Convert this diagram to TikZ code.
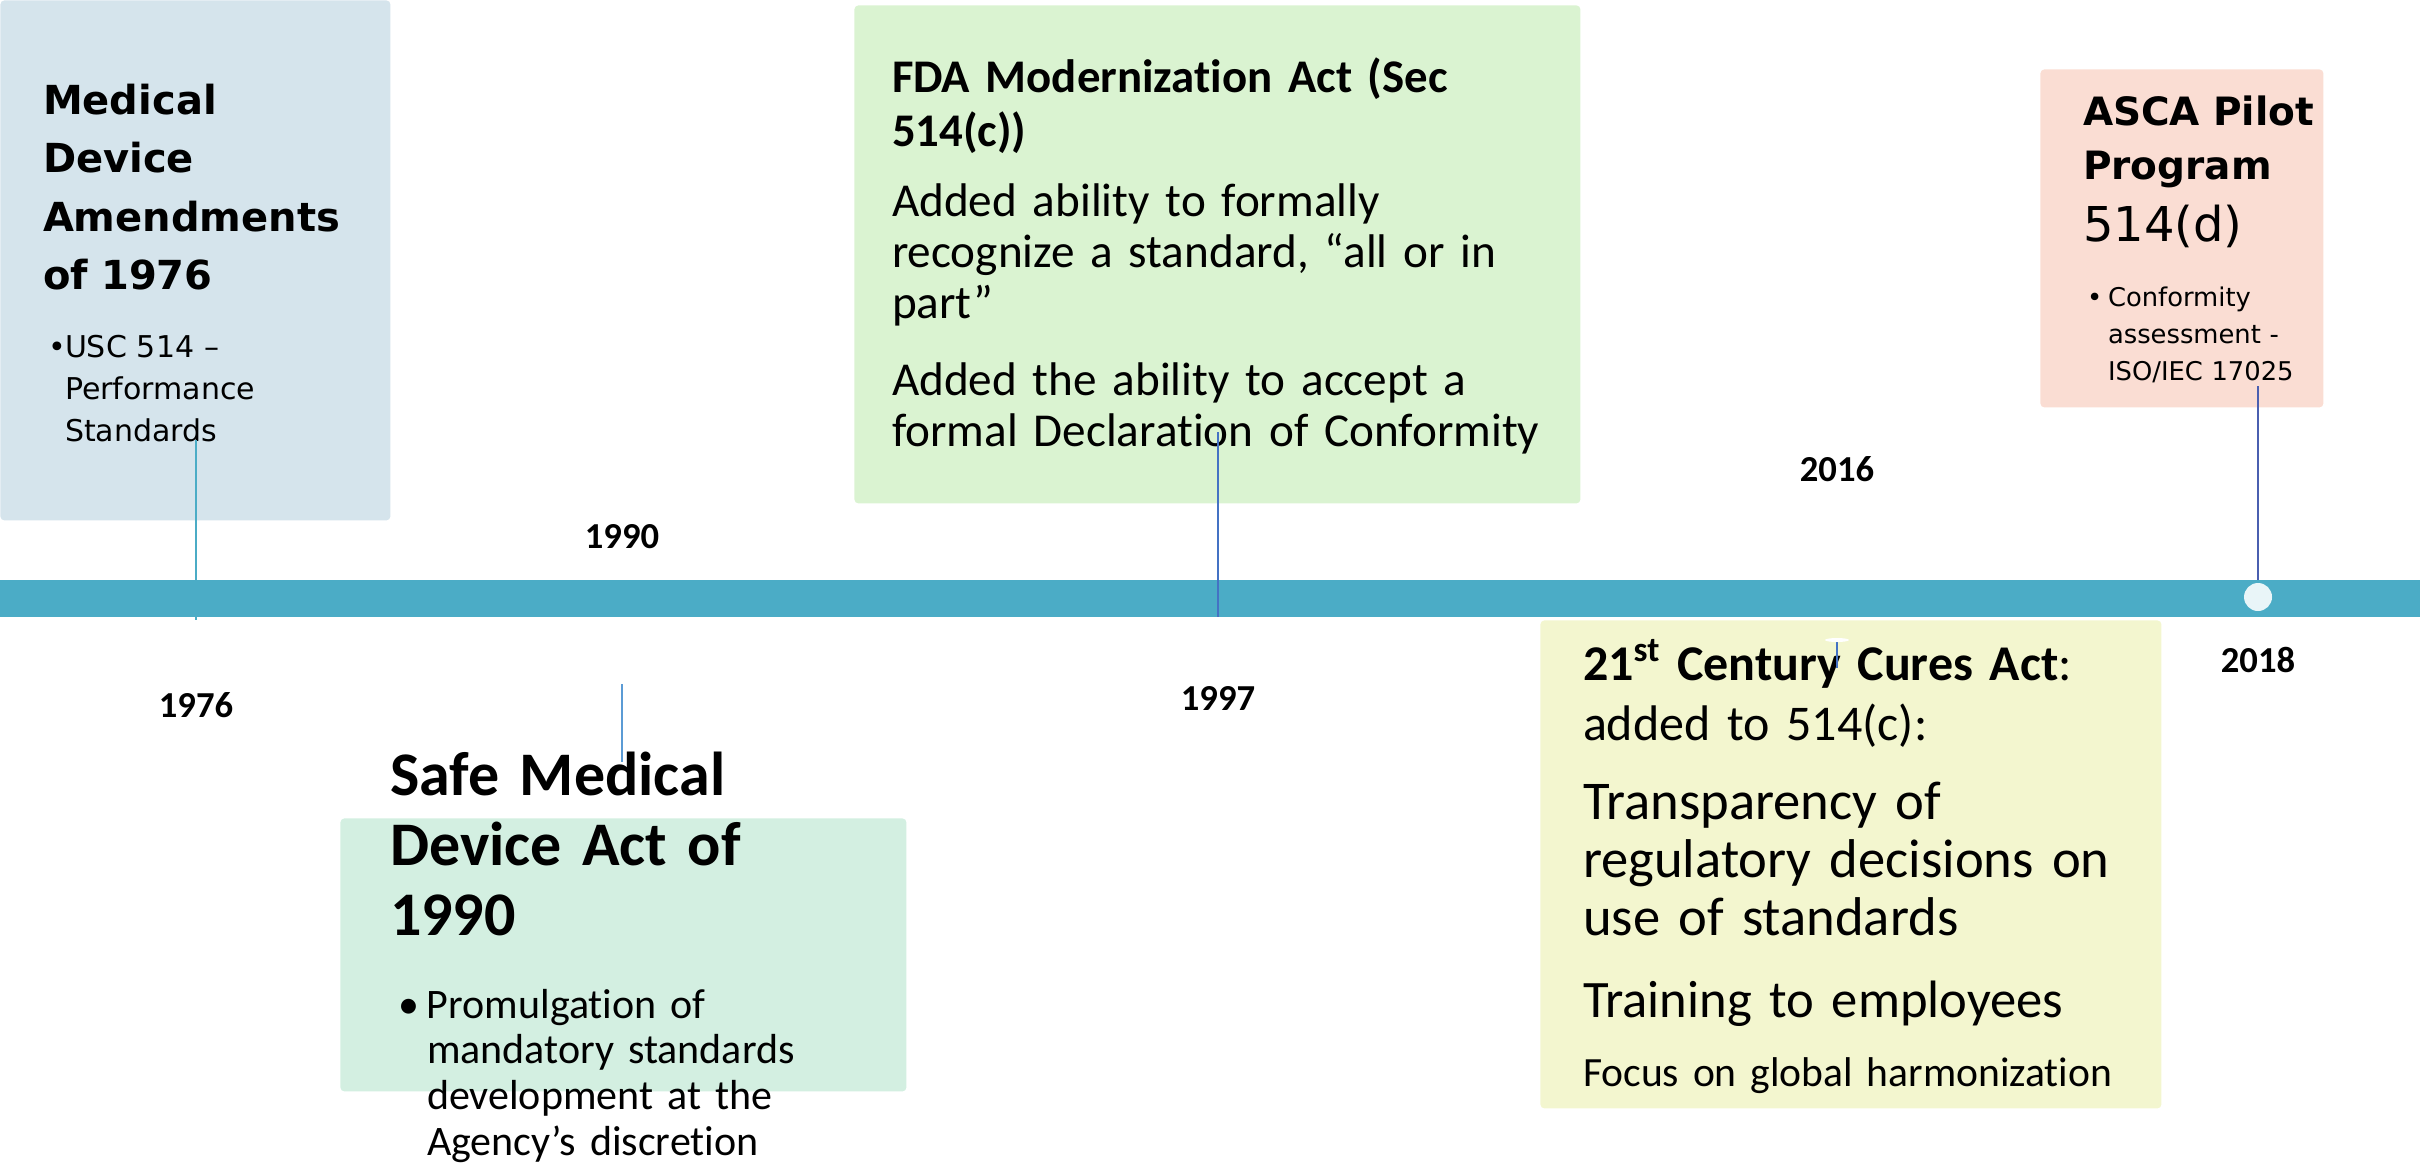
\documentclass[tikz,border=0pt]{standalone}
\usepackage{fontspec}
\setmainfont{Carlito}[Ligatures=NoCommon]
\newfontfamily\wideface{DejaVu Sans}
\usetikzlibrary{positioning, shapes.geometric}

\definecolor{barblue}{HTML}{4BACC6}
\definecolor{fillA}{HTML}{D5E4EC}
\definecolor{fillB}{HTML}{D3EFE1}
\definecolor{fillC}{HTML}{DAF3D1}
\definecolor{fillD}{HTML}{F3F6CF}
\definecolor{fillE}{HTML}{FADDD3}
\definecolor{tickA}{HTML}{4BACC6}
\definecolor{tickB}{HTML}{5B9BD5}
\definecolor{tickC}{HTML}{4472C4}
\definecolor{tickD}{HTML}{4A5FB0}

% bullet with hanging indent (lines broken with \newline, paragraph closed with \par)
\newcommand{\bul}[1]{\hangindent=#1\hangafter=1\noindent\makebox[#1][l]{\textbullet}}

\begin{document}
\begin{tikzpicture}[
    x=0.5pt, y=-0.5pt,
    bar/.style={rectangle, fill=barblue, inner sep=0pt, minimum width=1210pt, minimum height=18.5pt},
    evbox/.style={rectangle, rounded corners=2pt, anchor=north west, inner sep=0pt},
    txt/.style={anchor=base west, inner sep=0pt, outer sep=0pt, text width=360pt, align=left},
    year/.style={font=\fontsize{18.3}{21}\selectfont\bfseries, inner sep=0pt},
    tick/.style={line width=0.6pt}
]
    \useasboundingbox (0,0) rectangle (2420,1162);

    % timeline
    \node[bar] (bar) at (1210,598.5) {};

    % event boxes
    \node[evbox, fill=fillA, minimum width=195pt, minimum height=260pt] (b1976) at (0,0) {};
    \node[evbox, fill=fillC, minimum width=363pt, minimum height=249pt] (b1997) at (854,5) {};
    \node[evbox, fill=fillE, minimum width=141.5pt, minimum height=169pt] (b2018) at (2040,69) {};
    \node[evbox, fill=fillB, minimum width=283pt, minimum height=136.5pt] (b1990) at (340,818) {};
    \node[evbox, fill=fillD, minimum width=310.5pt, minimum height=244pt] (b2016) at (1540,620) {};

    % 1976
    \node[txt, font=\fontsize{20}{29.3}\selectfont\wideface\bfseries] (h1976) at (43,114)
        {Medical\\Device\\Amendments\\of 1976};
    \node[txt, font=\fontsize{15}{21}\selectfont\wideface] (p1976) at (48,357)
        {\bul{8.5pt}USC 514 –\newline Performance\newline Standards\par};

    % 1990
    \node[txt, font=\fontsize{31}{35}\selectfont\bfseries] (h1990) at (390,795)
        {Safe Medical\\Device Act of\\1990};
    \node[txt, font=\fontsize{21}{22.9}\selectfont] (p1990) at (398,1018)
        {\bul{14.5pt}Promulgation of\newline mandatory standards\newline development at the\newline Agency’s discretion\par};

    % 1997
    \node[txt, font=\fontsize{23.4}{27}\selectfont\bfseries] (h1997) at (892,92)
        {FDA Modernization Act (Sec\\514(c))};
    \node[txt, font=\fontsize{23.6}{25.5}\selectfont] (p1997a) at (892,216)
        {Added ability to formally\\recognize a standard, “all or in\\part”};
    \node[txt, font=\fontsize{23.6}{25.5}\selectfont] (p1997b) at (892,395)
        {Added the ability to accept a\\formal Declaration of Conformity};

    % 2016
    \node[txt, font=\fontsize{25}{30}\selectfont] (h2016) at (1583,680)
        {\textbf{21\textsuperscript{st} Century Cures Act}:\\added to 514(c):};
    \node[txt, font=\fontsize{27.3}{29}\selectfont] (p2016a) at (1583,819)
        {Transparency of\\regulatory decisions on\\use of standards};
    \node[txt, font=\fontsize{26.3}{29}\selectfont] (p2016b) at (1583,1017) {Training to employees};
    \node[txt, font=\fontsize{20.8}{25}\selectfont] (p2016c) at (1583,1086) {Focus on global harmonization};

    % 2018
    \node[txt, font=\fontsize{19.5}{27}\selectfont\wideface\bfseries] (h2018) at (2083,125)
        {ASCA Pilot\\Program};
    \node[txt, font=\fontsize{24}{28}\selectfont\wideface] (s2018) at (2083,241) {514(d)};
    \node[txt, font=\fontsize{12.9}{18.5}\selectfont\wideface] (p2018) at (2087,306)
        {\bul{10.5pt}Conformity\newline assessment -\newline ISO/IEC 17025\par};

    % year labels
    \node[year] (y1976) at (196,705) {1976};
    \node[year] (y1990) at (622,537) {1990};
    \node[year] (y1997) at (1218,698) {1997};
    \node[year] (y2016) at (1837,469) {2016};
    \node[year] (y2018) at (2258,660) {2018};

    % connectors to the timeline
    \coordinate (c1976) at (196,440);
    \coordinate (c1990) at (622,684);
    \coordinate (e1990) at (622,762);
    \coordinate (c1997) at (1218,432);
    \coordinate (c2016) at (1837,640);
    \coordinate (e2016) at (1837,668);
    \coordinate (c2018) at (2258,386);
    \draw[tick, tickA] (c1976) -- ([yshift=-1.5pt]c1976 |- bar.south);
    \draw[tick, tickB] (c1990) -- (e1990);
    \draw[tick, tickC] (c1997) -- (c1997 |- bar.south);
    \draw[tick, tickC] (c2016) -- (e2016);
    \node[ellipse, fill=white, inner sep=0pt, minimum width=12pt, minimum height=2pt] (m2016) at (c2016) {};
    \draw[tick, tickD] (c2018) -- (c2018 |- bar.north);
    \node[circle, fill=white!88!barblue, inner sep=0pt, minimum size=14pt] (dot2018) at (2258,597) {};
\end{tikzpicture}
\end{document}
